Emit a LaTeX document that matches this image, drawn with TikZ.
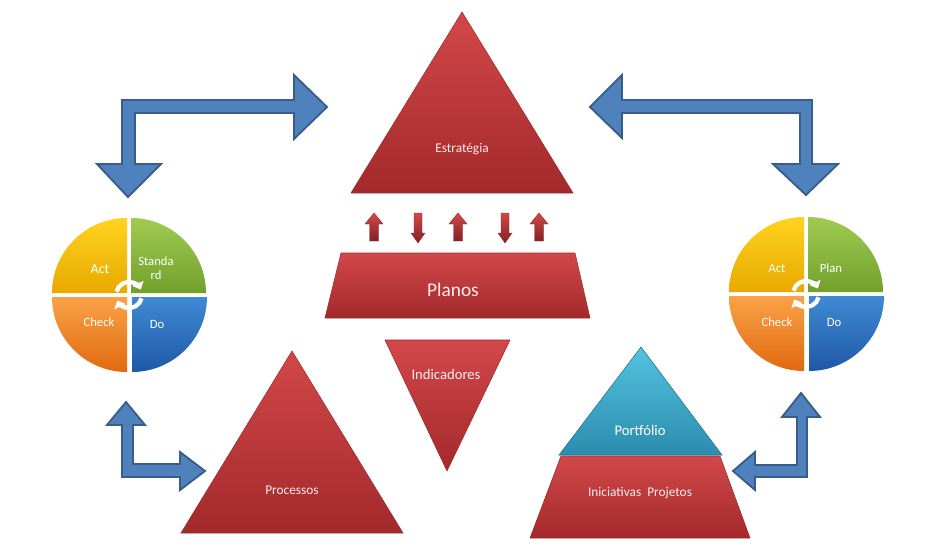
\documentclass[tikz,border=0pt]{standalone}
\usepackage{fontspec}
\setmainfont{Carlito}
\usetikzlibrary{arrows.meta}
\definecolor{bluefill}{HTML}{4F81BD}
\definecolor{blueedge}{HTML}{385D8A}
\definecolor{redtop}{HTML}{D2484A}
\definecolor{redbot}{HTML}{A3292B}
\definecolor{rededge}{HTML}{9C2A2C}
\definecolor{cyantop}{HTML}{52C3DE}
\definecolor{cyanbot}{HTML}{2C8DAE}
\definecolor{yeltop}{HTML}{FFD31F}
\definecolor{yelbot}{HTML}{E8A900}
\definecolor{grntop}{HTML}{9FCB50}
\definecolor{grnbot}{HTML}{72A02C}
\definecolor{orgtop}{HTML}{FAA248}
\definecolor{orgbot}{HTML}{E0690F}
\definecolor{blutop}{HTML}{3F8AD4}
\definecolor{blubot}{HTML}{1F58A6}
\definecolor{txtw}{HTML}{FBEDEC}
\tikzset{
  bluearrow/.style={fill=bluefill, draw=blueedge, line width=1.4pt, line join=miter},
  redshape/.style={top color=redtop, bottom color=redbot, draw=rededge, line width=0.4pt},
  cyanshape/.style={top color=cyantop, bottom color=cyanbot, draw=cyanbot!80!black, line width=0.4pt},
  smallred/.style={top color=redtop, bottom color=redbot!80!black, draw=rededge, line width=0.3pt},
  lbl/.style={text=txtw, font=\fontsize{10}{12}\selectfont, inner sep=0pt, align=center},
  qlbl/.style={text=white, font=\fontsize{9.5}{10.5}\selectfont, inner sep=0pt, align=center},
  cyc/.style={draw=white, line width=3.2pt, -{Triangle[length=5pt,width=9pt]}}
}
\begin{document}
\begin{tikzpicture}[x=0.75pt,y=-0.75pt]
\useasboundingbox (0,0) rectangle (935,553);
\fill[white] (0,0) rectangle (935,553);

% ---- blue bent arrows
\filldraw[bluearrow] (327,107) -- (294,139) -- (294,113) -- (135,113) -- (135,164) -- (161,164) -- (128,197) -- (97,164) -- (122,164) -- (122,100) -- (294,100) -- (294,75) -- cycle;
\filldraw[bluearrow] (590,107) -- (622,75) -- (622,100) -- (812,100) -- (812,164) -- (838,164) -- (806,195) -- (773,164) -- (800,164) -- (800,113) -- (622,113) -- (622,138) -- cycle;
\filldraw[bluearrow] (126,402) -- (145,425) -- (133,425) -- (133,464) -- (180,464) -- (180,452) -- (205,471) -- (180,490) -- (180,477) -- (122,477) -- (122,425) -- (107,425) -- cycle;
\filldraw[bluearrow] (801,393) -- (820,417) -- (807,417) -- (807,477) -- (755,477) -- (755,490) -- (733,471) -- (755,452) -- (755,465) -- (797,465) -- (797,417) -- (782,417) -- cycle;

% ---- Estrategia triangle
\shade[redshape] (462,12) -- (573,193) -- (351,193) -- cycle;
\node[lbl] (estrategia) at (462,149) {Estratégia};

% ---- small arrows
\foreach \cx in {374,458,539}{
  \shade[smallred] (\cx,213) -- (\cx+9,224) -- (\cx+4.5,224) -- (\cx+4.5,241) -- (\cx-4.5,241) -- (\cx-4.5,224) -- (\cx-9,224) -- cycle;
}
\foreach \cx in {418,505}{
  \shade[smallred] (\cx,243) -- (\cx+7,233) -- (\cx+4,233) -- (\cx+4,213) -- (\cx-4,213) -- (\cx-4,233) -- (\cx-7,233) -- cycle;
}

% ---- Planos trapezoid
\shade[redshape] (341,253) -- (575,253) -- (590,318) -- (325,318) -- cycle;
\node[lbl, font=\fontsize{14.5}{16}\selectfont] (planos) at (453,290) {Planos};

% ---- Indicadores inverted triangle
\shade[redshape] (385,340) -- (510,340) -- (447,471) -- cycle;
\node[lbl, font=\fontsize{11}{13}\selectfont] (indicadores) at (446,374) {Indicadores};

% ---- Processos triangle
\shade[redshape] (292,351) -- (403,533) -- (181,533) -- cycle;
\node[lbl] (processos) at (292,490) {Processos};

% ---- Portfolio / Iniciativas
\shade[redshape] (561,456) -- (720,456) -- (750,538) -- (530,538) -- cycle;
\shade[cyanshape] (641,347) -- (722,455) -- (559,455) -- cycle;
\node[lbl, font=\fontsize{11}{13}\selectfont, text=white] (portfolio) at (640,430) {Portfólio};
\node[lbl] (iniciativas) at (640,493) {Iniciativas\ \ Projetos};

% ---- PDCA left
\begin{scope}[shift={(129,295)}]
  \shade[top color=yeltop, bottom color=yelbot] (-2,-2) -- ++(180:75) arc[start angle=180, end angle=270, radius=75] -- cycle;
  \shade[top color=grntop, bottom color=grnbot] (2,-2) -- ++(270:75) arc[start angle=270, end angle=360, radius=75] -- cycle;
  \shade[top color=blutop, bottom color=blubot] (3,2) -- ++(0:75) arc[start angle=0, end angle=90, radius=75] -- cycle;
  \shade[top color=orgtop, bottom color=orgbot] (-2,2) -- ++(90:75) arc[start angle=90, end angle=180, radius=75] -- cycle;
  \draw[cyc] (195:13) arc[start angle=195, end angle=335, radius=13];
  \draw[cyc] (15:13) arc[start angle=15, end angle=155, radius=13];
\end{scope}
\node[qlbl, font=\fontsize{10.5}{12}\selectfont] (actL) at (100,269) {Act};
\node[qlbl] (stdL) at (156,268) {Standa\\rd};
\node[qlbl] (checkL) at (99,322) {Check};
\node[qlbl] (doL) at (157,324) {Do};

% ---- PDCA right
\begin{scope}[shift={(806,294)}]
  \shade[top color=yeltop, bottom color=yelbot] (-2,-2) -- ++(180:75) arc[start angle=180, end angle=270, radius=75] -- cycle;
  \shade[top color=grntop, bottom color=grnbot] (2,-2) -- ++(270:75) arc[start angle=270, end angle=360, radius=75] -- cycle;
  \shade[top color=blutop, bottom color=blubot] (3,2) -- ++(0:75) arc[start angle=0, end angle=90, radius=75] -- cycle;
  \shade[top color=orgtop, bottom color=orgbot] (-2,2) -- ++(90:75) arc[start angle=90, end angle=180, radius=75] -- cycle;
  \draw[cyc] (195:13) arc[start angle=195, end angle=335, radius=13];
  \draw[cyc] (15:13) arc[start angle=15, end angle=155, radius=13];
\end{scope}
\node[qlbl] (actR) at (777,268) {Act};
\node[qlbl] (planR) at (831,268) {Plan};
\node[qlbl] (checkR) at (777,322) {Check};
\node[qlbl] (doR) at (834,322) {Do};
\end{tikzpicture}
\end{document}
